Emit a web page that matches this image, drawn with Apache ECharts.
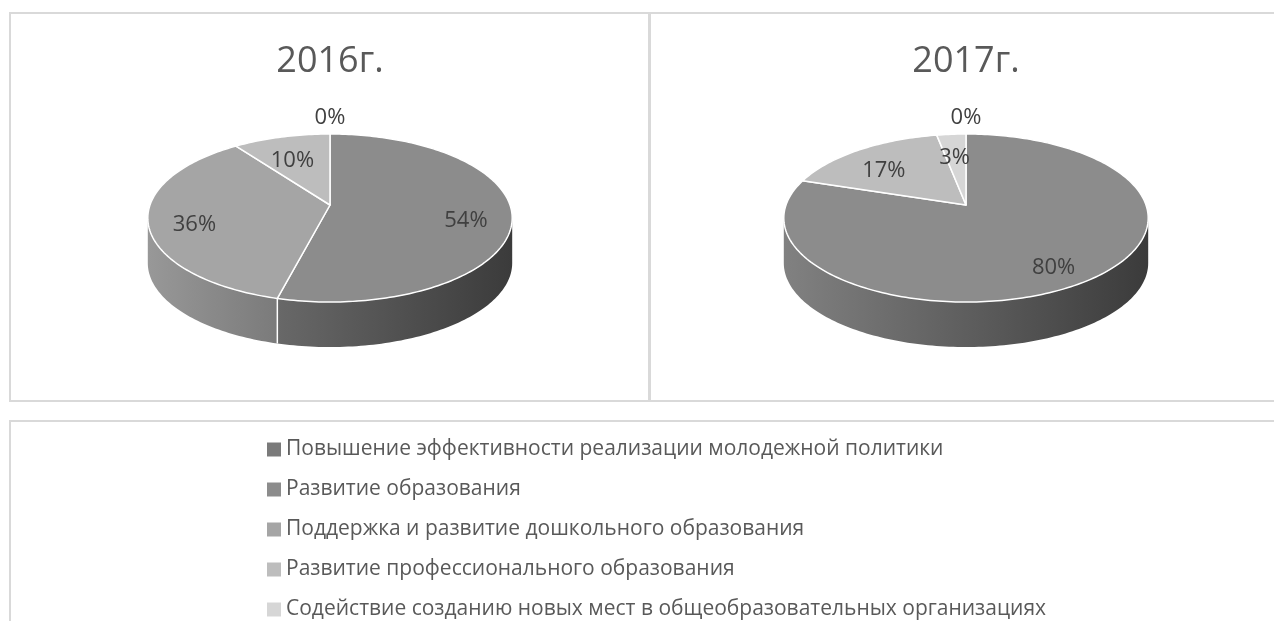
<!DOCTYPE html>
<html>
<head>
<meta charset="utf-8">
<script src="https://cdn.jsdelivr.net/npm/echarts@6/dist/echarts.min.js"></script>
<style>
  html, body { margin: 0; padding: 0; background: #fff; }
  #chart { width: 1274px; height: 621px; }
</style>
</head>
<body>
<div id="chart"></div>
<script>
// categories (legend order) and their grey shades
const categories = [
  'Повышение эффективности реализации молодежной политики',
  'Развитие образования',
  'Поддержка и развитие дошкольного образования',
  'Развитие профессионального образования',
  'Содействие созданию новых мест в общеобразовательных организациях'
]
const colors = ['#7a7a7a', '#8c8c8c', '#a5a5a5', '#bdbdbd', '#d6d6d6']
const years = ['2016г.', '2017г.']
// shares in %, null = no value (no label)
const values2016 = [0, 54, 36, 10, null]
const values2017 = [0, 80, null, 17, 3]

const FONT = '"Open Sans", "Noto Sans", sans-serif'
const TXT = '#595959'

// tilted pie geometry (simple perspective like excel 3d pie)
const pieCenters = [330, 966]
const pieCy = 205
const A = 180, B = 82, K = 0.155, DEPTH = 45

function proj(cx, r, phi) {
  const u = r * Math.sin(phi), v = -r * Math.cos(phi)
  const w = 1 - K * v
  return [cx + A * u / w, pieCy + B * v / w]
}

function shade(hex, f) {
  const n = parseInt(hex.slice(1), 16)
  const c = [(n >> 16) & 255, (n >> 8) & 255, n & 255].map(x => Math.round(x * f))
  return 'rgb(' + c.join(',') + ')'
}

function makePieRender(values, cx) {
  const total = values.reduce((s, v) => s + (v || 0), 0)
  const starts = []
  let acc = 0
  values.forEach(v => { starts.push(acc); acc += (v || 0) })
  const phiL = Math.acos(-K), phiR = 2 * Math.PI - phiL

  return function (params, api) {
    const i = params.dataIndex
    const v = api.value(0)
    if (isNaN(v)) return null
    const a1 = starts[i] / total * 2 * Math.PI
    const a2 = (starts[i] + v) / total * 2 * Math.PI
    const col = colors[i]
    const children = []

    // side wall (front half only)
    const s = Math.max(a1, phiL), e = Math.min(a2, phiR)
    if (e > s) {
      const n = Math.max(2, Math.ceil((e - s) / 0.02))
      const pts = []
      for (let j = 0; j <= n; j++) pts.push(proj(cx, 1, s + (e - s) * j / n))
      for (let j = n; j >= 0; j--) {
        const p = proj(cx, 1, s + (e - s) * j / n)
        pts.push([p[0], p[1] + DEPTH])
      }
      children.push({
        type: 'polygon', z2: 0,
        shape: { points: pts },
        style: {
          fill: {
            type: 'linear', x: cx - 182, y: 0, x2: cx + 182, y2: 0, global: true,
            colorStops: [
              { offset: 0, color: shade(col, 0.92) },
              { offset: 1, color: shade(col, 0.42) }
            ]
          }
        }
      })
    }
    if (v > 0 && a1 > phiL && a1 < phiR) {
      const p = proj(cx, 1, a1)
      children.push({
        type: 'line', z2: 5,
        shape: { x1: p[0], y1: p[1], x2: p[0], y2: p[1] + DEPTH },
        style: { stroke: '#fff', lineWidth: 1.5 }
      })
    }

    // top face
    if (v > 0) {
      const n = Math.max(2, Math.ceil((a2 - a1) / 0.02))
      const pts = [[cx, pieCy]]
      for (let j = 0; j <= n; j++) pts.push(proj(cx, 1, a1 + (a2 - a1) * j / n))
      children.push({
        type: 'polygon', z2: 10,
        shape: { points: pts },
        style: { fill: col, stroke: '#fff', lineWidth: 1.5, lineJoin: 'round' }
      })
    }

    // data label (inside the slice, zero shares above the pie)
    const mid = (a1 + a2) / 2
    const outside = v / total < 0.005
    const lp = proj(cx, outside ? 1.28 : 0.75, mid)
    children.push({
      type: 'text', z2: 100,
      style: {
        x: lp[0], y: lp[1] + (outside ? 0 : 8),
        text: Math.round(v / total * 100) + '%',
        font: '22px ' + FONT,
        fill: '#404040',
        align: 'center', verticalAlign: 'middle'
      }
    })
    return { type: 'group', children: children }
  }
}

const pieValues = [values2016, values2017]

const pieSeries = pieValues.map((vals, k) => ({
  type: 'custom',
  name: years[k],
  coordinateSystem: 'none',
  silent: true,
  data: vals.map(v => (v == null ? '-' : v)),
  renderItem: makePieRender(vals, pieCenters[k])
}))

// empty series, only to feed the legend
const legendSeries = categories.map((c, i) => ({
  type: 'custom',
  name: c,
  coordinateSystem: 'none',
  data: [],
  renderItem: () => null,
  itemStyle: { color: colors[i] }
}))

const frames = [
  { x: 10, y: 13, width: 639, height: 388 },
  { x: 650, y: 13, width: 640, height: 388 },
  { x: 10, y: 421, width: 1280, height: 220 }
]

const option = {
  animation: false,
  graphic: [
    ...frames.map(f => ({
      type: 'rect', z: -10, silent: true,
      shape: f,
      style: { fill: 'none', stroke: '#d9d9d9', lineWidth: 2 }
    })),
    ...years.map((y, k) => ({
      type: 'text', silent: true,
      style: {
        x: pieCenters[k], y: 62,
        text: y,
        font: '36px ' + FONT,
        fill: TXT,
        align: 'center', verticalAlign: 'middle'
      }
    }))
  ],
  legend: {
    orient: 'vertical',
    left: 267,
    top: 439,
    height: 260,
    padding: 0,
    icon: 'rect',
    itemWidth: 14,
    itemHeight: 14,
    itemGap: 19,
    selectedMode: false,
    data: categories,
    textStyle: { fontFamily: FONT, fontSize: 21, lineHeight: 20, color: TXT }
  },
  series: [...pieSeries, ...legendSeries]
}

const chart = echarts.init(document.getElementById('chart'))
chart.setOption(option)
</script>
</body>
</html>
